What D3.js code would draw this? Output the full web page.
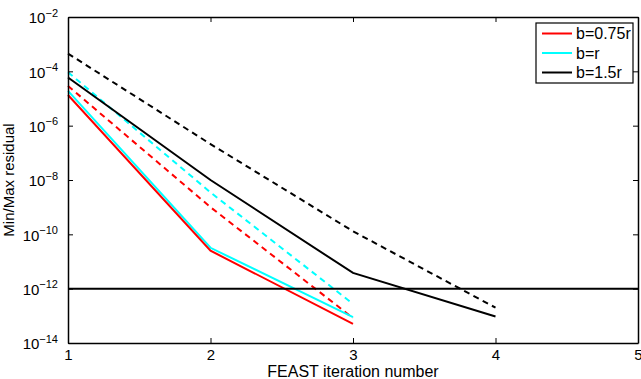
<!DOCTYPE html>
<meta charset="utf-8">
<style>
body { margin: 0; background: #fff; }
text { font-family: "Liberation Sans", Arial, sans-serif; fill: #000; }
.series { fill: none; stroke-width: 2px; }
</style>
<body>
<script src="https://d3js.org/d3.v7.min.js"></script>
<script>

// data
var iterations = [1, 2, 3, 4];
var xTicks = [1, 2, 3, 4, 5];
var yTickExps = [-2, -4, -6, -8, -10, -12, -14];
var threshold = 1e-12;

var minLow  = [1.35e-5, 2.5e-11, 5.1e-14];    // b=0.75r solid
var maxLow  = [2.9e-5, 1.0e-9, 8.3e-14];      // b=0.75r dashed
var minMid  = [1.9e-5, 3.2e-11, 9.0e-14];     // b=r solid
var maxMid  = [9.3e-5, 3.5e-9, 2.75e-13];     // b=r dashed
var minHigh = [5.9e-5, 1.0e-8, 3.8e-12, 9.5e-14];   // b=1.5r solid
var maxHigh = [4.5e-4, 2.1e-7, 1.3e-10, 2.0e-13];   // b=1.5r dashed

var legendLabels = ["b=0.75r", "b=r", "b=1.5r"];
var colors = ["#ff0000", "#00ffff", "#000000"];

var series = [
  {vals: maxHigh, color: colors[2], dash: true},
  {vals: maxMid, color: colors[1], dash: true},
  {vals: maxLow, color: colors[0], dash: true},
  {vals: minHigh, color: colors[2], dash: false},
  {vals: minMid, color: colors[1], dash: false},
  {vals: minLow, color: colors[0], dash: false}
];

var W = 641, H = 379;
var margin = {top: 17, right: 3, bottom: 36, left: 68},
    width = W - margin.left - margin.right,
    height = H - margin.top - margin.bottom;

var x = d3.scaleLinear().domain([1, 5]).range([0, width]);
var y = d3.scaleLog().domain([1e-14, 1e-2]).range([height, 0]);

var svg = d3.select("body").append("svg")
    .attr("width", W)
    .attr("height", H)
  .append("g")
    .attr("transform", "translate(" + margin.left + "," + margin.top + ")");

var line = d3.line()
    .x(function(d, i) { return x(iterations[i]); })
    .y(function(d) { return y(d); });

// series
series.forEach(function(s) {
  svg.append("path")
      .datum(s.vals)
      .attr("class", "series")
      .attr("d", line)
      .style("stroke", s.color)
      .style("stroke-dasharray", s.dash ? "6,4.5" : null);
});

// threshold line
svg.append("line")
    .attr("x1", 0).attr("x2", width)
    .attr("y1", y(threshold)).attr("y2", y(threshold))
    .style("stroke", "#000").style("stroke-width", 2);

// axes (matlab style ticks inside, on all four sides)
var yVals = yTickExps.map(function(e) { return Math.pow(10, e); });
var tk = 5;

svg.append("g")
    .attr("transform", "translate(0," + height + ")")
    .call(d3.axisBottom(x).tickValues(xTicks).tickSizeInner(-tk).tickSizeOuter(0).tickPadding(6).tickFormat(d3.format("d")));
svg.append("g")
    .call(d3.axisTop(x).tickValues(xTicks).tickSizeInner(-tk).tickSizeOuter(0).tickFormat(""));
var yAxis = svg.append("g")
    .call(d3.axisLeft(y).tickValues(yVals).tickSizeInner(-tk).tickSizeOuter(0).tickFormat(""));
svg.append("g")
    .attr("transform", "translate(" + width + ",0)")
    .call(d3.axisRight(y).tickValues(yVals).tickSizeInner(-tk).tickSizeOuter(0).tickFormat(""));

svg.selectAll(".domain").style("stroke", "#000").style("stroke-width", 1.5);
svg.selectAll(".tick line").style("stroke", "#000");
svg.selectAll(".tick text").style("font-size", "15px").style("font-family", "Liberation Sans, Arial, sans-serif");

// y tick labels as 10^n
yAxis.selectAll(".tick").each(function(d) {
  var t = d3.select(this).append("text")
      .attr("x", -10)
      .attr("dy", "0.38em")
      .attr("text-anchor", "end")
      .style("font-size", "15px");
  t.append("tspan").text("10");
  t.append("tspan")
      .attr("dy", "-0.6em")
      .style("font-size", "11px")
      .text("\u2212" + (-Math.round(Math.log10(d))));
});

// axis labels
svg.append("text")
    .attr("x", width / 2)
    .attr("y", height + 34)
    .attr("text-anchor", "middle")
    .style("font-size", "16px")
    .text("FEAST iteration number");

svg.append("text")
    .attr("transform", "translate(" + (-54) + "," + (height / 2) + ") rotate(-90)")
    .attr("text-anchor", "middle")
    .style("font-size", "15px")
    .text("Min/Max residual");

// legend
var lg = svg.append("g").attr("transform", "translate(" + (536 - margin.left) + "," + (23 - margin.top) + ")");
lg.append("rect")
    .attr("width", 97).attr("height", 60)
    .style("fill", "#fff").style("stroke", "#000").style("stroke-width", 1.2);
legendLabels.forEach(function(lab, i) {
  var yy = 10.5 + i * 19.5;
  lg.append("line")
      .attr("x1", 6).attr("x2", 36)
      .attr("y1", yy).attr("y2", yy)
      .style("stroke", colors[i]).style("stroke-width", 2);
  lg.append("text")
      .attr("x", 40).attr("y", yy)
      .attr("dy", "0.36em")
      .style("font-size", "16px")
      .text(lab);
});

</script>
